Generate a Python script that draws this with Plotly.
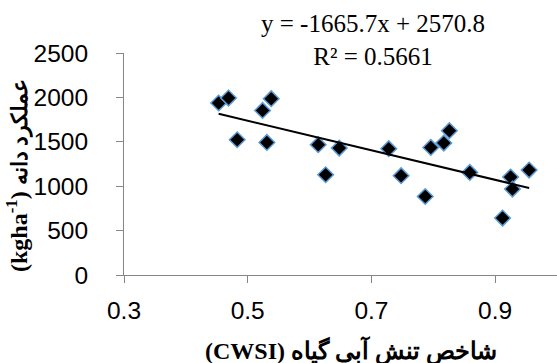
import plotly.graph_objects as go

# Data
cwsi = [0.453, 0.469, 0.483, 0.524, 0.538, 0.531, 0.614, 0.626, 0.648, 0.728,
        0.748, 0.787, 0.796, 0.817, 0.826, 0.859, 0.912, 0.925, 0.928, 0.955]
yield_kg = [1937, 1993, 1523, 1853, 1985, 1493, 1467, 1129, 1430, 1422,
            1118, 884, 1436, 1486, 1625, 1155, 641, 1103, 968, 1182]

slope = -1665.7
intercept = 2570.8
r2 = 0.5661

x_ticks = [0.3, 0.5, 0.7, 0.9]
y_ticks = [0, 500, 1000, 1500, 2000, 2500]

x_title = "(CWSI) شاخص تنش آبی گیاه"
y_title_unit = "(kgha<sup>-1</sup>)"
y_title_text = "عملکرد دانه"

trend_x = [min(cwsi), max(cwsi)]
trend_y = [slope * v + intercept for v in trend_x]

fig = go.Figure()
fig.add_trace(go.Scatter(
    x=cwsi, y=yield_kg, mode="markers",
    marker=dict(symbol="diamond", size=12, color="black",
                line=dict(color="#5B9BD5", width=1.5)),
    showlegend=False, hoverinfo="skip"))
fig.add_trace(go.Scatter(
    x=trend_x, y=trend_y, mode="lines",
    line=dict(color="black", width=2),
    showlegend=False, hoverinfo="skip"))

axis_common = dict(showgrid=False, zeroline=False, showline=True,
                   linecolor="#868686", linewidth=1,
                   ticks="outside", tickcolor="#868686", tickwidth=1,
                   tickfont=dict(family="Liberation Sans, Arial", size=24.5, color="black"))

fig.update_xaxes(range=[0.3, 1.0], tickvals=x_ticks,
                 ticktext=[str(v) for v in x_ticks],
                 ticklen=7, ticklabelstandoff=7, **axis_common)
fig.update_yaxes(range=[0, 2500], tickvals=y_ticks,
                 ticklen=7, ticklabelstandoff=23, **axis_common)

title_font = dict(family="Liberation Serif, Times New Roman, DejaVu Serif, serif",
                  size=24, color="black")
fig.update_layout(
    width=557, height=363,
    margin=dict(l=124, r=0, t=53, b=88),
    paper_bgcolor="white", plot_bgcolor="white",
    annotations=[
        dict(text="<b>" + x_title + "</b>", xref="paper", yref="paper",
             x=(351 - 124) / 433, y=-(350 - 275) / 222,
             xanchor="center", yanchor="middle", showarrow=False,
             font=title_font),
        dict(text="<b>" + y_title_unit + " <span style='font-size:21.5px'>"
                  + y_title_text + "</span></b>",
             xref="paper", yref="paper",
             x=(17 - 124) / 433, y=(275 - 176) / 222, textangle=-90,
             xanchor="center", yanchor="middle", showarrow=False, font=title_font),
        dict(text=f"y = {slope}x + {intercept}<br>R² = {r2}",
             xref="paper", yref="paper",
             x=(373 - 124) / 433, y=(275 - 40) / 222,
             xanchor="center", yanchor="middle", showarrow=False,
             font=dict(family="Liberation Serif, Times New Roman, serif", size=25, color="black")),
    ],
)

fig.write_html("out.html")
